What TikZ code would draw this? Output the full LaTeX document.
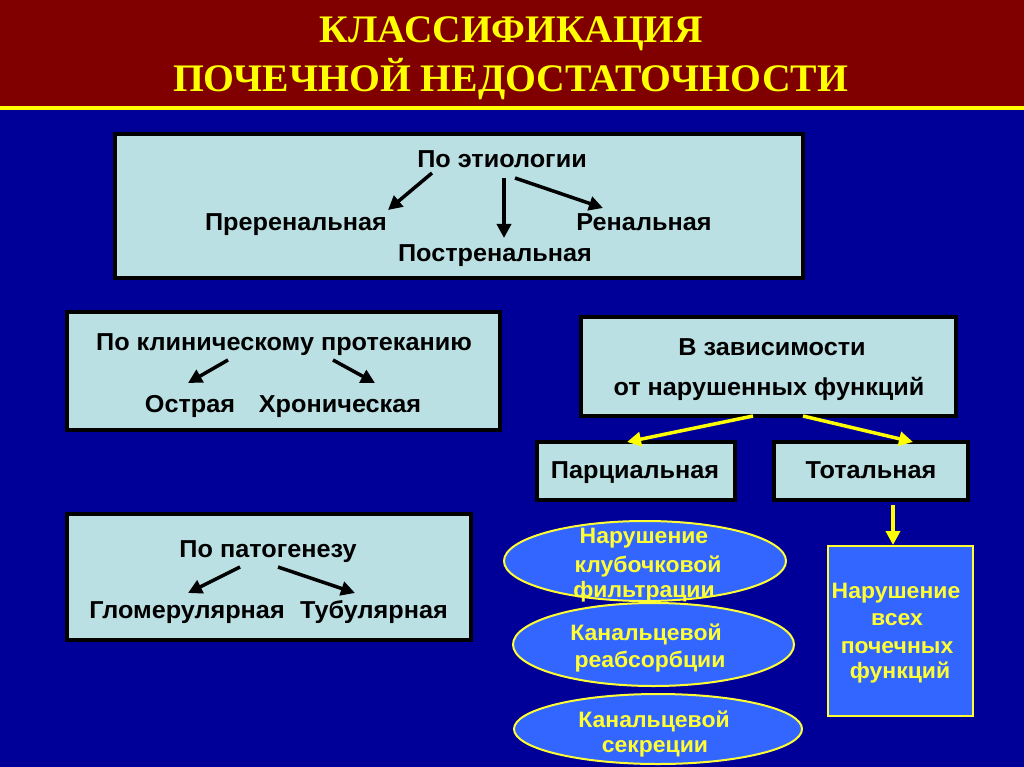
\documentclass[tikz,border=0pt]{standalone}
\usepackage{fontspec}
\usetikzlibrary{arrows.meta,calc,shapes.geometric}
\setmainfont{Liberation Sans}
\newfontfamily\titlefont{Liberation Serif}
\newfontfamily\wide[FakeStretch=1.03]{Liberation Sans}
\definecolor{bgblue}{RGB}{0,0,153}
\definecolor{maroon}{RGB}{128,0,0}
\definecolor{yel}{RGB}{255,255,0}
\definecolor{ytext}{RGB}{255,255,51}
\definecolor{boxfill}{RGB}{187,224,227}
\definecolor{ellfill}{RGB}{51,102,255}
\tikzset{
  cbox/.style={draw=black,line width=4pt,fill=boxfill,rectangle,inner sep=0pt},
  ybox/.style={draw=ytext,line width=2pt,fill=ellfill,rectangle,inner sep=0pt},
  yell/.style={draw=ytext,line width=2pt,fill=ellfill,ellipse,inner sep=0pt},
  btxt/.style={anchor=base,inner sep=0pt,text=black,font=\wide\bfseries\fontsize{24.5}{28}\selectfont},
  ytxt/.style={anchor=base,inner sep=0pt,text=ytext,font=\wide\bfseries\fontsize{22.3}{26}\selectfont},
  ttxt/.style={anchor=base,inner sep=0pt,text=yel,font=\titlefont\bfseries\fontsize{39}{44}\selectfont},
  barr/.style={draw=black,line width=3.5pt,-{Triangle[length=14pt,width=14pt]}},
  yarr/.style={draw=yel,line width=3.5pt,-{Triangle[length=14pt,width=14pt]}},
}
\begin{document}
\begin{tikzpicture}[x=1pt,y=-1pt]
\useasboundingbox (0,0) rectangle (1024,767);
\fill[bgblue] (0,0) rectangle (1024,767);
\fill[maroon] (0,0) rectangle (1024,106);
\fill[yel] (0,106) rectangle (1024,110);
% title
\node[ttxt] (t1) at (511.5,43) {\resizebox{383pt}{\height}{КЛАССИФИКАЦИЯ}};
\node[ttxt] (t2) at (510.5,92) {\resizebox{675pt}{\height}{ПОЧЕЧНОЙ НЕДОСТАТОЧНОСТИ}};
% boxes
\node[cbox,minimum width=688pt,minimum height=144pt] (b1) at (459,206) {};
\node[cbox,minimum width=433pt,minimum height=118pt] (b2) at (283.5,371) {};
\node[cbox,minimum width=404pt,minimum height=126pt] (b3) at (269,577) {};
\node[cbox,minimum width=375pt,minimum height=99pt] (zav) at (768.5,366.5) {};
\node[cbox,minimum width=198pt,minimum height=58pt] (parc) at (636,471) {};
\node[cbox,minimum width=194pt,minimum height=58pt] (tot) at (871,471) {};
\node[ybox,minimum width=145pt,minimum height=170pt] (all) at (900.5,631) {};
% ellipses
\node[yell,minimum width=282pt,minimum height=80pt] (e1) at (645,561) {};
\node[yell,minimum width=281pt,minimum height=83pt] (e2) at (653.5,644.5) {};
\node[yell,minimum width=288pt,minimum height=70pt] (e3) at (658,729) {};
% box 1 texts
\node[btxt] (etio) at (502,168) {По этиологии};
\node[btxt] (pre) at (296,231) {Преренальная};
\node[btxt] (ren) at (644,231) {Ренальная};
\node[btxt] (post) at (495,261) {Постренальная};
\draw[barr] ($(etio.base)+(-70,5)$) -- ($(pre.base)+(92,-21)$);
\draw[barr] ($(etio.base)+(2,10)$) -- ($(post.base)+(9,-23)$);
\draw[barr] ($(etio.base)+(13,10)$) -- ($(ren.base)+(-41,-23)$);
% box 2 texts
\node[btxt] (klin) at (284,350) {По клиническому протеканию};
\node[btxt] (ostr) at (190,412) {Острая};
\node[btxt] (hron) at (340,412) {Хроническая};
\draw[barr] ($(klin.base)+(-56,10)$) -- ($(ostr.base)+(-2,-29)$);
\draw[barr] ($(klin.base)+(49,10)$) -- ($(hron.base)+(35,-29)$);
% box 3 texts
\node[btxt] (pat) at (268,557) {По патогенезу};
\node[btxt] (glom) at (187,618) {Гломерулярная};
\node[btxt] (tub) at (374,618) {Тубулярная};
\draw[barr] ($(pat.base)+(-28,10)$) -- ($(glom.base)+(1,-25)$);
\draw[barr] ($(pat.base)+(10,10)$) -- ($(tub.base)+(-19,-25)$);
% right part
\node[btxt] (zav1) at (772,355) {В зависимости};
\node[btxt] (zav2) at (769,395) {от нарушенных функций};
\node[btxt] (parct) at (635,478) {Парциальная};
\node[btxt] (tott) at (871,478) {Тотальная};
\draw[yarr] ($(zav.south west)+(174,-2)$) -- ($(parc.north)+(-9,2)$);
\draw[yarr] ($(zav.south west)+(224,-2)$) -- ($(tot.north)+(42,2)$);
\draw[yarr] ($(tot.south)+(22,3)$) -- ($(all.north)+(-7.5,0)$);
% ellipse texts
\node[ytxt] (e1a) at (644,543) {Нарушение};
\node[ytxt] (e1b) at (648,572) {клубочковой};
\node[ytxt] (e1c) at (644,597) {фильтрации};
\node[ytxt] (e2a) at (646,640) {Канальцевой};
\node[ytxt] (e2b) at (650,667) {реабсорбции};
\node[ytxt] (e3a) at (654,727) {Канальцевой};
\node[ytxt] (e3b) at (655,752) {секреции};
% total box texts
\node[ytxt] (a1) at (896,598) {Нарушение};
\node[ytxt] (a2) at (897,625) {всех};
\node[ytxt] (a3) at (897,653) {почечных};
\node[ytxt] (a4) at (900,678) {функций};
\end{tikzpicture}
\end{document}
